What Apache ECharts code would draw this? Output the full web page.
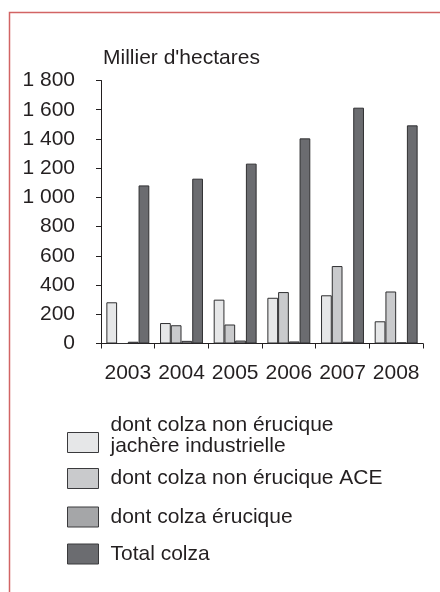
<!DOCTYPE html>
<html>
<head>
<meta charset="utf-8">
<script src="https://cdn.jsdelivr.net/npm/echarts@6/dist/echarts.min.js"></script>
<style>
html,body{margin:0;padding:0;background:#fff;}
#c{width:440px;height:592px;}
</style>
</head>
<body>
<div id="c"></div>
<script>
const years = ['2003','2004','2005','2006','2007','2008'];
const jachere = [282, 140, 300, 313, 330, 152];
const ace = [0, 125, 130, 352, 530, 356];
const erucique = [12, 18, 20, 14, 12, 8];
const total = [1082, 1128, 1231, 1404, 1614, 1493];
const seriesNames = [
  'dont colza non érucique\njachère industrielle',
  'dont colza non érucique ACE',
  'dont colza érucique',
  'Total colza'
];
const seriesColors = ['#e6e7e8', '#c9cacc', '#a5a6a8', '#6b6c70'];
const seriesData = [jachere, ace, erucique, total];

const FONT = '"Liberation Sans", Arial, sans-serif';
const TXT = '#231f20';

const chart = echarts.init(document.getElementById('c'), null, {renderer: 'canvas'});

const legendTops = [414.5, 468, 506.5, 543.5];
const legends = seriesNames.map((n, i) => {
  const lg = {
    orient: 'vertical',
    left: 67,
    top: legendTops[i],
    padding: 0,
    itemWidth: 31,
    itemHeight: 20,
    icon: 'rect',
    selectedMode: false,
    data: [n],
    itemStyle: {borderColor: '#3a3a3c', borderWidth: 1},
    textStyle: {
      fontFamily: FONT, fontSize: 21, color: TXT, lineHeight: 21,
      padding: [0, 0, 0, 7]
    }
  };
  if (i === 0) {
    lg.formatter = name => name.split('\n').map(s => '{a|' + s + '}').join('\n') + '\n{s| }';
    lg.textStyle.rich = {
      a: {fontFamily: FONT, fontSize: 21, color: TXT, lineHeight: 21},
      s: {fontFamily: FONT, fontSize: 10, lineHeight: 14}
    };
  }
  return lg;
});

chart.setOption({
  animation: false,
  backgroundColor: '#fff',
  title: {
    text: "Millier d'hectares",
    left: 103, top: 48, padding: 0,
    textStyle: {fontFamily: FONT, fontSize: 21, fontWeight: 'normal', color: TXT}
  },
  graphic: [{
    type: 'rect',
    shape: {x: 9.5, y: 12.5, width: 600, height: 800},
    style: {fill: 'none', stroke: '#d26464', lineWidth: 1.5},
    silent: true
  }],
  legend: legends,
  grid: {left: 101, right: 17, top: 80.5, bottom: 248.5, containLabel: false},
  xAxis: {
    type: 'category',
    data: years,
    boundaryGap: true,
    axisLine: {lineStyle: {color: '#231f20', width: 1}},
    axisTick: {show: true, length: 5, lineStyle: {color: '#231f20'}},
    axisLabel: {fontFamily: FONT, fontSize: 21, color: TXT, margin: 19, interval: 0}
  },
  yAxis: {
    type: 'value',
    min: 0, max: 1800, interval: 200,
    splitLine: {show: false},
    axisLine: {show: true, lineStyle: {color: '#231f20', width: 1}},
    axisTick: {show: true, length: 5, lineStyle: {color: '#231f20'}},
    axisLabel: {
      fontFamily: FONT, fontSize: 21, color: TXT, margin: 26,
      formatter: v => String(v).replace(/\B(?=(\d{3})+(?!\d))/g, ' ')
    }
  },
  series: seriesNames.map((n, i) => ({
    name: n,
    type: 'bar',
    data: seriesData[i],
    barGap: '0%',
    barCategoryGap: '20%',
    itemStyle: {color: seriesColors[i], borderColor: '#2f2f31', borderWidth: 1}
  }))
});
</script>
</body>
</html>
